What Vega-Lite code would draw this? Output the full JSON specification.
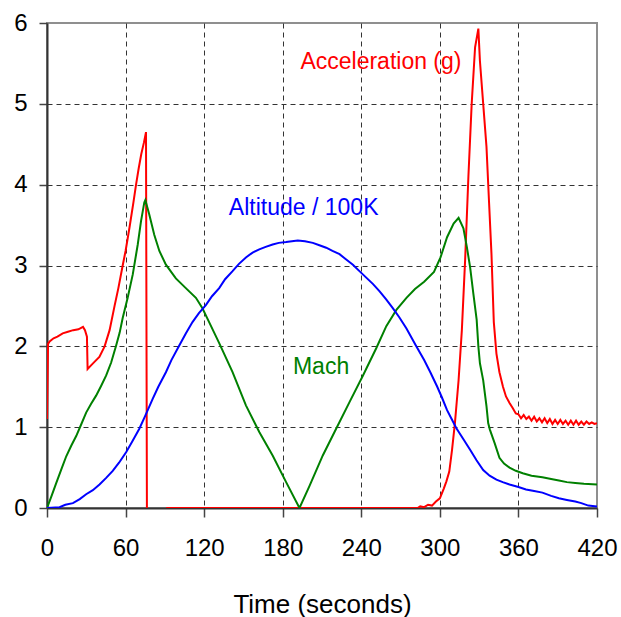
{
  "$schema": "https://vega.github.io/schema/vega-lite/v6.json",
  "autosize": "none",
  "padding": {"left": 47, "top": 23, "right": 24, "bottom": 109},
  "width": 550,
  "height": 485,
  "background": "white",
  "config": {
    "font": "Liberation Sans",
    "view": {"stroke": "#8f8f8f", "strokeWidth": 2},
    "axis": {
      "labelFont": "Liberation Sans",
      "titleFont": "Liberation Sans",
      "labelColor": "#000",
      "titleColor": "#000",
      "domainColor": "#333",
      "domainWidth": 2,
      "tickColor": "#444",
      "tickWidth": 1.5,
      "gridColor": "#333",
      "gridWidth": 1,
      "gridDash": [5, 4],
      "labelFontSize": 24,
      "titleFontSize": 26,
      "titleFontWeight": "normal",
      "labelFlush": false,
      "labelOverlap": false
    }
  },
  "datasets": {
    "lines": [
      {"s": "Acceleration", "seg": 1, "t": 0, "v": 1.1},
      {"s": "Acceleration", "seg": 1, "t": 0.8, "v": 2.03},
      {"s": "Acceleration", "seg": 1, "t": 2, "v": 2.06},
      {"s": "Acceleration", "seg": 1, "t": 5, "v": 2.1},
      {"s": "Acceleration", "seg": 1, "t": 8, "v": 2.12},
      {"s": "Acceleration", "seg": 1, "t": 12, "v": 2.16},
      {"s": "Acceleration", "seg": 1, "t": 16, "v": 2.18},
      {"s": "Acceleration", "seg": 1, "t": 20, "v": 2.2},
      {"s": "Acceleration", "seg": 1, "t": 24, "v": 2.21},
      {"s": "Acceleration", "seg": 1, "t": 27.5, "v": 2.24},
      {"s": "Acceleration", "seg": 1, "t": 29, "v": 2.2},
      {"s": "Acceleration", "seg": 1, "t": 30.5, "v": 2.12},
      {"s": "Acceleration", "seg": 1, "t": 31, "v": 1.72},
      {"s": "Acceleration", "seg": 1, "t": 34, "v": 1.77},
      {"s": "Acceleration", "seg": 1, "t": 37, "v": 1.82},
      {"s": "Acceleration", "seg": 1, "t": 40, "v": 1.87},
      {"s": "Acceleration", "seg": 1, "t": 44, "v": 2.0},
      {"s": "Acceleration", "seg": 1, "t": 47.8, "v": 2.2},
      {"s": "Acceleration", "seg": 1, "t": 51.6, "v": 2.5},
      {"s": "Acceleration", "seg": 1, "t": 54.5, "v": 2.72},
      {"s": "Acceleration", "seg": 1, "t": 57.8, "v": 3.0},
      {"s": "Acceleration", "seg": 1, "t": 60, "v": 3.18},
      {"s": "Acceleration", "seg": 1, "t": 63, "v": 3.47},
      {"s": "Acceleration", "seg": 1, "t": 66, "v": 3.78},
      {"s": "Acceleration", "seg": 1, "t": 68, "v": 4.0},
      {"s": "Acceleration", "seg": 1, "t": 70, "v": 4.2},
      {"s": "Acceleration", "seg": 1, "t": 72, "v": 4.38},
      {"s": "Acceleration", "seg": 1, "t": 74, "v": 4.52},
      {"s": "Acceleration", "seg": 1, "t": 75.6, "v": 4.65},
      {"s": "Acceleration", "seg": 1, "t": 76.3, "v": 0},
      {"s": "Acceleration", "seg": 2, "t": 91, "v": 0},
      {"s": "Acceleration", "seg": 2, "t": 283, "v": 0},
      {"s": "Acceleration", "seg": 2, "t": 285, "v": 0.02},
      {"s": "Acceleration", "seg": 2, "t": 288, "v": 0.01},
      {"s": "Acceleration", "seg": 2, "t": 291, "v": 0.04},
      {"s": "Acceleration", "seg": 2, "t": 294, "v": 0.03},
      {"s": "Acceleration", "seg": 2, "t": 297, "v": 0.08},
      {"s": "Acceleration", "seg": 2, "t": 300, "v": 0.12},
      {"s": "Acceleration", "seg": 2, "t": 303, "v": 0.24},
      {"s": "Acceleration", "seg": 2, "t": 305, "v": 0.33},
      {"s": "Acceleration", "seg": 2, "t": 307.2, "v": 0.45},
      {"s": "Acceleration", "seg": 2, "t": 309.3, "v": 0.72},
      {"s": "Acceleration", "seg": 2, "t": 311.5, "v": 1.05},
      {"s": "Acceleration", "seg": 2, "t": 314.3, "v": 1.58},
      {"s": "Acceleration", "seg": 2, "t": 316.8, "v": 2.2},
      {"s": "Acceleration", "seg": 2, "t": 319.3, "v": 3.07},
      {"s": "Acceleration", "seg": 2, "t": 321.8, "v": 4.1},
      {"s": "Acceleration", "seg": 2, "t": 324.3, "v": 5.0},
      {"s": "Acceleration", "seg": 2, "t": 326.9, "v": 5.7},
      {"s": "Acceleration", "seg": 2, "t": 329.4, "v": 5.93},
      {"s": "Acceleration", "seg": 2, "t": 330.6, "v": 5.53},
      {"s": "Acceleration", "seg": 2, "t": 333.1, "v": 5.0},
      {"s": "Acceleration", "seg": 2, "t": 335.6, "v": 4.47},
      {"s": "Acceleration", "seg": 2, "t": 337.6, "v": 3.77},
      {"s": "Acceleration", "seg": 2, "t": 339.4, "v": 3.15},
      {"s": "Acceleration", "seg": 2, "t": 341.2, "v": 2.3},
      {"s": "Acceleration", "seg": 2, "t": 343.2, "v": 1.91},
      {"s": "Acceleration", "seg": 2, "t": 345.5, "v": 1.68},
      {"s": "Acceleration", "seg": 2, "t": 348.2, "v": 1.5},
      {"s": "Acceleration", "seg": 2, "t": 350.5, "v": 1.38},
      {"s": "Acceleration", "seg": 2, "t": 353.2, "v": 1.3},
      {"s": "Acceleration", "seg": 2, "t": 355.5, "v": 1.24},
      {"s": "Acceleration", "seg": 2, "t": 358, "v": 1.17},
      {"s": "Acceleration", "seg": 2, "t": 360, "v": 1.16},
      {"s": "Acceleration", "seg": 2, "t": 362, "v": 1.11},
      {"s": "Acceleration", "seg": 2, "t": 364, "v": 1.15},
      {"s": "Acceleration", "seg": 2, "t": 366, "v": 1.1},
      {"s": "Acceleration", "seg": 2, "t": 368, "v": 1.13},
      {"s": "Acceleration", "seg": 2, "t": 370, "v": 1.08},
      {"s": "Acceleration", "seg": 2, "t": 372, "v": 1.13},
      {"s": "Acceleration", "seg": 2, "t": 374, "v": 1.07},
      {"s": "Acceleration", "seg": 2, "t": 376, "v": 1.11},
      {"s": "Acceleration", "seg": 2, "t": 378, "v": 1.06},
      {"s": "Acceleration", "seg": 2, "t": 380, "v": 1.11},
      {"s": "Acceleration", "seg": 2, "t": 382, "v": 1.05},
      {"s": "Acceleration", "seg": 2, "t": 384, "v": 1.1},
      {"s": "Acceleration", "seg": 2, "t": 386, "v": 1.04},
      {"s": "Acceleration", "seg": 2, "t": 388, "v": 1.09},
      {"s": "Acceleration", "seg": 2, "t": 390, "v": 1.04},
      {"s": "Acceleration", "seg": 2, "t": 392, "v": 1.09},
      {"s": "Acceleration", "seg": 2, "t": 394, "v": 1.04},
      {"s": "Acceleration", "seg": 2, "t": 396, "v": 1.08},
      {"s": "Acceleration", "seg": 2, "t": 398, "v": 1.03},
      {"s": "Acceleration", "seg": 2, "t": 400, "v": 1.08},
      {"s": "Acceleration", "seg": 2, "t": 402, "v": 1.03},
      {"s": "Acceleration", "seg": 2, "t": 404, "v": 1.08},
      {"s": "Acceleration", "seg": 2, "t": 406, "v": 1.03},
      {"s": "Acceleration", "seg": 2, "t": 408, "v": 1.07},
      {"s": "Acceleration", "seg": 2, "t": 410, "v": 1.03},
      {"s": "Acceleration", "seg": 2, "t": 412, "v": 1.07},
      {"s": "Acceleration", "seg": 2, "t": 414, "v": 1.04},
      {"s": "Acceleration", "seg": 2, "t": 416, "v": 1.06},
      {"s": "Acceleration", "seg": 2, "t": 418, "v": 1.04},
      {"s": "Acceleration", "seg": 2, "t": 420, "v": 1.05},

      {"s": "Mach", "seg": 1, "t": 0, "v": 0},
      {"s": "Mach", "seg": 1, "t": 3.5, "v": 0.15},
      {"s": "Mach", "seg": 1, "t": 7.1, "v": 0.31},
      {"s": "Mach", "seg": 1, "t": 11, "v": 0.48},
      {"s": "Mach", "seg": 1, "t": 14.7, "v": 0.64},
      {"s": "Mach", "seg": 1, "t": 18.5, "v": 0.77},
      {"s": "Mach", "seg": 1, "t": 22.3, "v": 0.89},
      {"s": "Mach", "seg": 1, "t": 26, "v": 1.03},
      {"s": "Mach", "seg": 1, "t": 29.9, "v": 1.18},
      {"s": "Mach", "seg": 1, "t": 33.7, "v": 1.29},
      {"s": "Mach", "seg": 1, "t": 37.5, "v": 1.39},
      {"s": "Mach", "seg": 1, "t": 41.3, "v": 1.51},
      {"s": "Mach", "seg": 1, "t": 45.2, "v": 1.64},
      {"s": "Mach", "seg": 1, "t": 49, "v": 1.8},
      {"s": "Mach", "seg": 1, "t": 52.8, "v": 2.01},
      {"s": "Mach", "seg": 1, "t": 55.5, "v": 2.17},
      {"s": "Mach", "seg": 1, "t": 57.8, "v": 2.35},
      {"s": "Mach", "seg": 1, "t": 61.6, "v": 2.6},
      {"s": "Mach", "seg": 1, "t": 65.5, "v": 2.89},
      {"s": "Mach", "seg": 1, "t": 69.3, "v": 3.26},
      {"s": "Mach", "seg": 1, "t": 71.8, "v": 3.55},
      {"s": "Mach", "seg": 1, "t": 74.3, "v": 3.78},
      {"s": "Mach", "seg": 1, "t": 75.1, "v": 3.81},
      {"s": "Mach", "seg": 1, "t": 78.1, "v": 3.63},
      {"s": "Mach", "seg": 1, "t": 81.9, "v": 3.38},
      {"s": "Mach", "seg": 1, "t": 85.8, "v": 3.18},
      {"s": "Mach", "seg": 1, "t": 90.8, "v": 3.01},
      {"s": "Mach", "seg": 1, "t": 98.4, "v": 2.84},
      {"s": "Mach", "seg": 1, "t": 106, "v": 2.72},
      {"s": "Mach", "seg": 1, "t": 113.7, "v": 2.6},
      {"s": "Mach", "seg": 1, "t": 118.7, "v": 2.47},
      {"s": "Mach", "seg": 1, "t": 123.8, "v": 2.3},
      {"s": "Mach", "seg": 1, "t": 131.5, "v": 2.04},
      {"s": "Mach", "seg": 1, "t": 141.7, "v": 1.68},
      {"s": "Mach", "seg": 1, "t": 151.9, "v": 1.27},
      {"s": "Mach", "seg": 1, "t": 162.1, "v": 0.94},
      {"s": "Mach", "seg": 1, "t": 172.3, "v": 0.65},
      {"s": "Mach", "seg": 1, "t": 182.6, "v": 0.32},
      {"s": "Mach", "seg": 1, "t": 192.8, "v": 0.0},
      {"s": "Mach", "seg": 1, "t": 200.4, "v": 0.27},
      {"s": "Mach", "seg": 1, "t": 210.6, "v": 0.65},
      {"s": "Mach", "seg": 1, "t": 220.8, "v": 0.98},
      {"s": "Mach", "seg": 1, "t": 231, "v": 1.31},
      {"s": "Mach", "seg": 1, "t": 241.3, "v": 1.64},
      {"s": "Mach", "seg": 1, "t": 251.5, "v": 1.98},
      {"s": "Mach", "seg": 1, "t": 259.1, "v": 2.25},
      {"s": "Mach", "seg": 1, "t": 266.8, "v": 2.45},
      {"s": "Mach", "seg": 1, "t": 274.5, "v": 2.6},
      {"s": "Mach", "seg": 1, "t": 281, "v": 2.71},
      {"s": "Mach", "seg": 1, "t": 288, "v": 2.8},
      {"s": "Mach", "seg": 1, "t": 295.5, "v": 2.92},
      {"s": "Mach", "seg": 1, "t": 300.5, "v": 3.1},
      {"s": "Mach", "seg": 1, "t": 305.5, "v": 3.35},
      {"s": "Mach", "seg": 1, "t": 310.5, "v": 3.52},
      {"s": "Mach", "seg": 1, "t": 314.3, "v": 3.59},
      {"s": "Mach", "seg": 1, "t": 318, "v": 3.46},
      {"s": "Mach", "seg": 1, "t": 320.6, "v": 3.23},
      {"s": "Mach", "seg": 1, "t": 323.1, "v": 2.98},
      {"s": "Mach", "seg": 1, "t": 325.6, "v": 2.65},
      {"s": "Mach", "seg": 1, "t": 328.1, "v": 2.33},
      {"s": "Mach", "seg": 1, "t": 329.4, "v": 2.0},
      {"s": "Mach", "seg": 1, "t": 330.6, "v": 1.79},
      {"s": "Mach", "seg": 1, "t": 333.1, "v": 1.58},
      {"s": "Mach", "seg": 1, "t": 335.6, "v": 1.26},
      {"s": "Mach", "seg": 1, "t": 336.9, "v": 1.05},
      {"s": "Mach", "seg": 1, "t": 338.2, "v": 0.97},
      {"s": "Mach", "seg": 1, "t": 341.9, "v": 0.8},
      {"s": "Mach", "seg": 1, "t": 345.5, "v": 0.62},
      {"s": "Mach", "seg": 1, "t": 349, "v": 0.55},
      {"s": "Mach", "seg": 1, "t": 353.2, "v": 0.5},
      {"s": "Mach", "seg": 1, "t": 358, "v": 0.46},
      {"s": "Mach", "seg": 1, "t": 363.3, "v": 0.43},
      {"s": "Mach", "seg": 1, "t": 370, "v": 0.4},
      {"s": "Mach", "seg": 1, "t": 378.3, "v": 0.38},
      {"s": "Mach", "seg": 1, "t": 385, "v": 0.36},
      {"s": "Mach", "seg": 1, "t": 390.9, "v": 0.34},
      {"s": "Mach", "seg": 1, "t": 397, "v": 0.32},
      {"s": "Mach", "seg": 1, "t": 403.4, "v": 0.31},
      {"s": "Mach", "seg": 1, "t": 410, "v": 0.3},
      {"s": "Mach", "seg": 1, "t": 420, "v": 0.29},

      {"s": "Altitude", "seg": 1, "t": 0, "v": 0},
      {"s": "Altitude", "seg": 1, "t": 9.6, "v": 0.01},
      {"s": "Altitude", "seg": 1, "t": 14, "v": 0.04},
      {"s": "Altitude", "seg": 1, "t": 19.8, "v": 0.06},
      {"s": "Altitude", "seg": 1, "t": 25, "v": 0.11},
      {"s": "Altitude", "seg": 1, "t": 29.9, "v": 0.17},
      {"s": "Altitude", "seg": 1, "t": 35, "v": 0.22},
      {"s": "Altitude", "seg": 1, "t": 40.1, "v": 0.29},
      {"s": "Altitude", "seg": 1, "t": 45, "v": 0.37},
      {"s": "Altitude", "seg": 1, "t": 50.2, "v": 0.46},
      {"s": "Altitude", "seg": 1, "t": 55, "v": 0.56},
      {"s": "Altitude", "seg": 1, "t": 60.4, "v": 0.69},
      {"s": "Altitude", "seg": 1, "t": 65, "v": 0.82},
      {"s": "Altitude", "seg": 1, "t": 70.5, "v": 0.98},
      {"s": "Altitude", "seg": 1, "t": 75, "v": 1.14},
      {"s": "Altitude", "seg": 1, "t": 80.7, "v": 1.35},
      {"s": "Altitude", "seg": 1, "t": 85, "v": 1.5},
      {"s": "Altitude", "seg": 1, "t": 90.8, "v": 1.68},
      {"s": "Altitude", "seg": 1, "t": 95, "v": 1.83},
      {"s": "Altitude", "seg": 1, "t": 101, "v": 2.01},
      {"s": "Altitude", "seg": 1, "t": 106, "v": 2.16},
      {"s": "Altitude", "seg": 1, "t": 111.1, "v": 2.3},
      {"s": "Altitude", "seg": 1, "t": 116, "v": 2.41},
      {"s": "Altitude", "seg": 1, "t": 121.3, "v": 2.51},
      {"s": "Altitude", "seg": 1, "t": 126, "v": 2.62},
      {"s": "Altitude", "seg": 1, "t": 131.5, "v": 2.72},
      {"s": "Altitude", "seg": 1, "t": 136, "v": 2.83},
      {"s": "Altitude", "seg": 1, "t": 141.7, "v": 2.93},
      {"s": "Altitude", "seg": 1, "t": 146.6, "v": 3.02},
      {"s": "Altitude", "seg": 1, "t": 151.9, "v": 3.1},
      {"s": "Altitude", "seg": 1, "t": 157, "v": 3.16},
      {"s": "Altitude", "seg": 1, "t": 162.1, "v": 3.2},
      {"s": "Altitude", "seg": 1, "t": 167, "v": 3.23},
      {"s": "Altitude", "seg": 1, "t": 172.3, "v": 3.26},
      {"s": "Altitude", "seg": 1, "t": 177, "v": 3.28},
      {"s": "Altitude", "seg": 1, "t": 182.6, "v": 3.29},
      {"s": "Altitude", "seg": 1, "t": 187, "v": 3.3},
      {"s": "Altitude", "seg": 1, "t": 191.5, "v": 3.31},
      {"s": "Altitude", "seg": 1, "t": 197, "v": 3.3},
      {"s": "Altitude", "seg": 1, "t": 203, "v": 3.28},
      {"s": "Altitude", "seg": 1, "t": 208, "v": 3.25},
      {"s": "Altitude", "seg": 1, "t": 213.2, "v": 3.22},
      {"s": "Altitude", "seg": 1, "t": 218, "v": 3.18},
      {"s": "Altitude", "seg": 1, "t": 223.4, "v": 3.14},
      {"s": "Altitude", "seg": 1, "t": 228, "v": 3.08},
      {"s": "Altitude", "seg": 1, "t": 233.6, "v": 3.01},
      {"s": "Altitude", "seg": 1, "t": 238, "v": 2.94},
      {"s": "Altitude", "seg": 1, "t": 243.8, "v": 2.85},
      {"s": "Altitude", "seg": 1, "t": 249, "v": 2.77},
      {"s": "Altitude", "seg": 1, "t": 254, "v": 2.68},
      {"s": "Altitude", "seg": 1, "t": 259, "v": 2.58},
      {"s": "Altitude", "seg": 1, "t": 264.2, "v": 2.47},
      {"s": "Altitude", "seg": 1, "t": 269, "v": 2.36},
      {"s": "Altitude", "seg": 1, "t": 274.5, "v": 2.22},
      {"s": "Altitude", "seg": 1, "t": 282, "v": 2.0},
      {"s": "Altitude", "seg": 1, "t": 288, "v": 1.83},
      {"s": "Altitude", "seg": 1, "t": 293, "v": 1.67},
      {"s": "Altitude", "seg": 1, "t": 298, "v": 1.5},
      {"s": "Altitude", "seg": 1, "t": 301.5, "v": 1.37},
      {"s": "Altitude", "seg": 1, "t": 305.5, "v": 1.21},
      {"s": "Altitude", "seg": 1, "t": 309, "v": 1.1},
      {"s": "Altitude", "seg": 1, "t": 312.5, "v": 0.99},
      {"s": "Altitude", "seg": 1, "t": 318, "v": 0.85},
      {"s": "Altitude", "seg": 1, "t": 323.1, "v": 0.72},
      {"s": "Altitude", "seg": 1, "t": 328, "v": 0.59},
      {"s": "Altitude", "seg": 1, "t": 333.1, "v": 0.47},
      {"s": "Altitude", "seg": 1, "t": 338, "v": 0.4},
      {"s": "Altitude", "seg": 1, "t": 343.2, "v": 0.35},
      {"s": "Altitude", "seg": 1, "t": 348, "v": 0.32},
      {"s": "Altitude", "seg": 1, "t": 353.2, "v": 0.29},
      {"s": "Altitude", "seg": 1, "t": 360, "v": 0.26},
      {"s": "Altitude", "seg": 1, "t": 365.8, "v": 0.23},
      {"s": "Altitude", "seg": 1, "t": 372, "v": 0.21},
      {"s": "Altitude", "seg": 1, "t": 378.3, "v": 0.19},
      {"s": "Altitude", "seg": 1, "t": 385, "v": 0.15},
      {"s": "Altitude", "seg": 1, "t": 390.9, "v": 0.12},
      {"s": "Altitude", "seg": 1, "t": 397, "v": 0.1},
      {"s": "Altitude", "seg": 1, "t": 403.4, "v": 0.08},
      {"s": "Altitude", "seg": 1, "t": 408, "v": 0.06},
      {"s": "Altitude", "seg": 1, "t": 413.4, "v": 0.03},
      {"s": "Altitude", "seg": 1, "t": 420, "v": 0.02}
    ],
    "labels": [
      {"s": "Acceleration", "t": 255, "v": 5.43, "label": "Acceleration (g)"},
      {"s": "Altitude", "t": 196, "v": 3.62, "label": "Altitude / 100K"},
      {"s": "Mach", "t": 209.3, "v": 1.66, "label": "Mach"}
    ]
  },
  "layer": [
    {
      "data": {"name": "lines"},
      "mark": {"type": "line", "strokeWidth": 2, "clip": true},
      "encoding": {
        "x": {
          "field": "t", "type": "quantitative",
          "scale": {"domain": [0, 420], "nice": false, "zero": false},
          "axis": {
            "title": "Time (seconds)",
            "values": [0, 60, 120, 180, 240, 300, 360, 420],
            "format": "d",
            "tickSize": 9,
            "labelPadding": 19,
            "titlePadding": 31,
            "gridOpacity": {"condition": {"test": "datum.value === 0 || datum.value === 420", "value": 0}, "value": 1}
          }
        },
        "y": {
          "field": "v", "type": "quantitative",
          "scale": {"domain": [0, 6], "nice": false},
          "axis": {
            "title": null,
            "values": [0, 1, 2, 3, 4, 5, 6],
            "format": "d",
            "tickSize": 8,
            "labelPadding": 12,
            "gridOpacity": {"condition": {"test": "datum.value === 0 || datum.value === 6", "value": 0}, "value": 1}
          }
        },
        "color": {
          "field": "s", "type": "nominal",
          "scale": {"domain": ["Acceleration", "Altitude", "Mach"], "range": ["#ff0000", "#0000ff", "#008000"]},
          "legend": null
        },
        "detail": {"field": "seg", "type": "nominal"}
      }
    },
    {
      "data": {"name": "labels"},
      "mark": {"type": "text", "fontSize": 23, "align": "center", "baseline": "alphabetic", "font": "Liberation Sans"},
      "encoding": {
        "x": {"field": "t", "type": "quantitative"},
        "y": {"field": "v", "type": "quantitative"},
        "text": {"field": "label"},
        "color": {"field": "s", "type": "nominal"}
      }
    }
  ]
}
